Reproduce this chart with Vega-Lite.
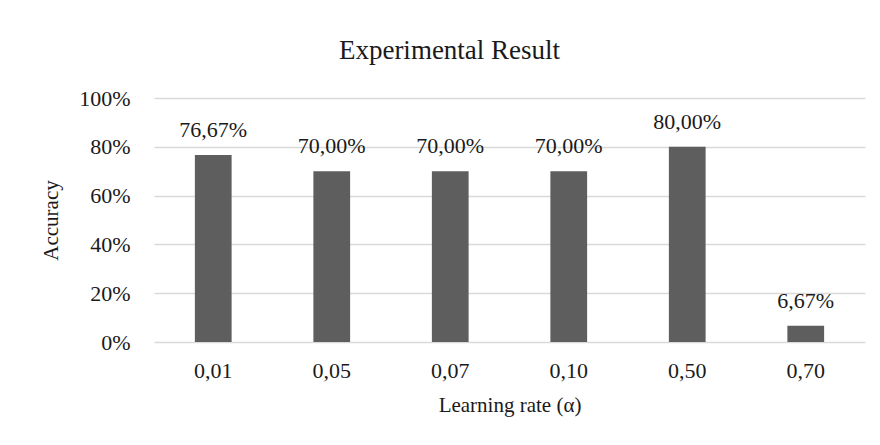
{
  "$schema": "https://vega.github.io/schema/vega-lite/v6.json",
  "autosize": {"type": "none"},
  "padding": {"left": 154, "top": 98, "right": 15, "bottom": 103},
  "width": 711,
  "height": 244,
  "background": "white",
  "title": {
    "text": "Experimental Result",
    "font": "Liberation Serif",
    "fontSize": 27,
    "fontWeight": "normal",
    "color": "#1a1a1a",
    "anchor": "middle",
    "baseline": "alphabetic",
    "offset": 1,
    "dx": -60
  },
  "config": {
    "locale": {
      "number": {"decimal": ",", "thousands": ".", "grouping": [3], "currency": ["", ""]}
    },
    "view": {"stroke": null},
    "font": "Liberation Serif"
  },
  "data": {
    "values": [
      {"rate": "0,01", "accuracy": 0.7667},
      {"rate": "0,05", "accuracy": 0.70},
      {"rate": "0,07", "accuracy": 0.70},
      {"rate": "0,10", "accuracy": 0.70},
      {"rate": "0,50", "accuracy": 0.80},
      {"rate": "0,70", "accuracy": 0.0667}
    ]
  },
  "encoding": {
    "x": {
      "field": "rate",
      "type": "ordinal",
      "sort": null,
      "scale": {"paddingInner": 0.69, "paddingOuter": 0.345},
      "axis": {
        "title": "Learning rate (α)",
        "labelAngle": 0,
        "labelFont": "Liberation Serif",
        "labelFontSize": 22,
        "labelColor": "#1a1a1a",
        "labelPadding": 18,
        "ticks": false,
        "domain": false,
        "titleFont": "Liberation Serif",
        "titleFontSize": 21,
        "titleFontWeight": "normal",
        "titleColor": "#1a1a1a",
        "titlePadding": 13
      }
    },
    "y": {
      "field": "accuracy",
      "type": "quantitative",
      "scale": {"domain": [0, 1], "nice": false},
      "axis": {
        "title": "Accuracy",
        "format": ".0%",
        "values": [0, 0.2, 0.4, 0.6, 0.8, 1.0],
        "labelFont": "Liberation Serif",
        "labelFontSize": 22,
        "labelColor": "#1a1a1a",
        "labelPadding": 24,
        "ticks": false,
        "domain": false,
        "grid": true,
        "gridColor": "#d9d9d9",
        "gridWidth": 1.3,
        "titleFont": "Liberation Serif",
        "titleFontSize": 21,
        "titleFontWeight": "normal",
        "titleColor": "#1a1a1a",
        "titlePadding": 17
      }
    }
  },
  "layer": [
    {"mark": {"type": "bar", "color": "#5e5e5e"}},
    {
      "mark": {
        "type": "text",
        "baseline": "alphabetic",
        "dy": -18,
        "font": "Liberation Serif",
        "fontSize": 22,
        "color": "#1a1a1a"
      },
      "encoding": {
        "text": {"field": "accuracy", "type": "quantitative", "format": ".2%"}
      }
    }
  ]
}
